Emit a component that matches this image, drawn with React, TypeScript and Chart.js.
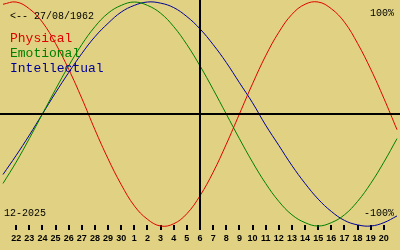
import React, { useEffect, useRef } from 'react';
import { Chart, registerables } from 'chart.js';

Chart.register(...registerables);

// Days shown on the axis: 21 Nov 2025 .. 21 Dec 2025
const dayLabels = ['21', '22', '23', '24', '25', '26', '27', '28', '29', '30',
  '1', '2', '3', '4', '5', '6', '7', '8', '9', '10', '11', '12', '13', '14', '15', '16', '17', '18', '19', '20', '21'];

const physical = [0.98, 1.0, 0.94, 0.82, 0.63, 0.4, 0.14, -0.14, -0.4, -0.63, -0.82, -0.94, -1.0, -0.98, -0.89, -0.73,
  -0.52, -0.27, 0, 0.27, 0.52, 0.73, 0.89, 0.98, 1.0, 0.94, 0.82, 0.63, 0.4, 0.14, -0.14];
const emotional = [-0.62, -0.43, -0.22, 0, 0.22, 0.43, 0.62, 0.78, 0.9, 0.97, 1.0, 0.97, 0.9, 0.78, 0.62, 0.43,
  0.22, 0, -0.22, -0.43, -0.62, -0.78, -0.9, -0.97, -1.0, -0.97, -0.9, -0.78, -0.62, -0.43, -0.22];
const intellectual = [-0.54, -0.37, -0.19, 0, 0.19, 0.37, 0.54, 0.69, 0.81, 0.91, 0.97, 1.0, 0.99, 0.95, 0.87, 0.76,
  0.62, 0.46, 0.28, 0.1, -0.1, -0.28, -0.46, -0.62, -0.76, -0.87, -0.95, -0.99, -1.0, -0.97, -0.91];

const seriesNames = ['Physical', 'Emotional', 'Intellectual'];
const seriesColors = ['#e00000', '#008000', '#000098'];
const birthLabel = '<-- 27/08/1962';
const monthLabel = '12-2025';
const topLabel = '100%';
const bottomLabel = '-100%';
const todayIndex = 15; // 6 Dec

const BG = '#e0d282';
const MONO = '"Liberation Mono", "DejaVu Sans Mono", monospace';

const overlayPlugin = {
  id: 'overlay',
  beforeDraw(chart: any) {
    const { ctx, width, height } = chart;
    ctx.save();
    ctx.fillStyle = BG;
    ctx.fillRect(0, 0, width, height);
    ctx.restore();
  },
  afterDatasetsDraw(chart: any) {
    const { ctx, chartArea, scales } = chart;
    const x = scales.x;
    const y = scales.y;
    ctx.save();
    ctx.strokeStyle = '#000';
    ctx.lineWidth = 2;
    const y0 = Math.round(y.getPixelForValue(0));
    ctx.beginPath();
    ctx.moveTo(0, y0);
    ctx.lineTo(chart.width, y0);
    ctx.stroke();
    const xt = Math.round(x.getPixelForValue(todayIndex));
    ctx.beginPath();
    ctx.moveTo(xt, 0);
    ctx.lineTo(xt, chartArea.bottom);
    ctx.stroke();
    ctx.restore();
  },
  afterDraw(chart: any) {
    const { ctx } = chart;
    ctx.save();
    ctx.textBaseline = 'alphabetic';
    ctx.fillStyle = '#000';
    ctx.font = '10px ' + MONO;
    ctx.textAlign = 'left';
    ctx.fillText(birthLabel, 10, 19);
    ctx.fillText(monthLabel, 4, 216);
    ctx.textAlign = 'right';
    ctx.fillText(topLabel, 394, 16);
    ctx.fillText(bottomLabel, 394, 216);
    ctx.textAlign = 'left';
    ctx.font = '13px ' + MONO;
    seriesNames.forEach((n, i) => {
      ctx.fillStyle = seriesColors[i];
      ctx.fillText(n, 10, 42 + i * 15);
    });
    ctx.restore();
  },
};

export default function App() {
  const ref = useRef<HTMLCanvasElement | null>(null);
  useEffect(() => {
    document.body.style.margin = '0';
    const canvas = ref.current;
    if (!canvas) return;
    const series = [physical, emotional, intellectual];
    const chart = new Chart(canvas, {
      type: 'line',
      data: {
        labels: dayLabels,
        datasets: series.map((d, i) => ({
          label: seriesNames[i],
          data: d,
          borderColor: seriesColors[i],
          borderWidth: 1,
          pointRadius: 0,
          tension: 0.4,
          fill: false,
          clip: false as any,
        })),
      },
      options: {
        responsive: false,
        animation: false,
        devicePixelRatio: 1,
        layout: { padding: { left: 0, right: 0, top: 0, bottom: 3.2 } },
        plugins: { legend: { display: false }, tooltip: { enabled: false } },
        scales: {
          x: {
            type: 'category',
            offset: false,
            border: { display: false },
            grid: {
              display: true,
              drawOnChartArea: false,
              drawTicks: true,
              tickLength: 5,
              lineWidth: 2,
              color: (c: any) => (c.index === 0 || c.index === dayLabels.length - 1 ? 'rgba(0,0,0,0)' : '#000'),
            },
            ticks: {
              autoSkip: false,
              maxRotation: 0,
              padding: 3,
              color: '#000',
              font: { family: '"Liberation Sans", Arial, sans-serif', size: 9, weight: 'bold' },
              callback: (_v: any, i: number) => (i === 0 || i === dayLabels.length - 1 ? '' : dayLabels[i]),
            },
          },
          y: {
            display: false,
            min: -0.991,
            max: 1.018,
          },
        },
      },
      plugins: [overlayPlugin],
    });
    return () => chart.destroy();
  }, []);
  return (
    <div style={{ position: 'absolute', left: 0, top: 0, width: 400, height: 250 }}>
      <canvas ref={ref} width={400} height={250} style={{ display: 'block', width: 400, height: 250 }} />
    </div>
  );
}
